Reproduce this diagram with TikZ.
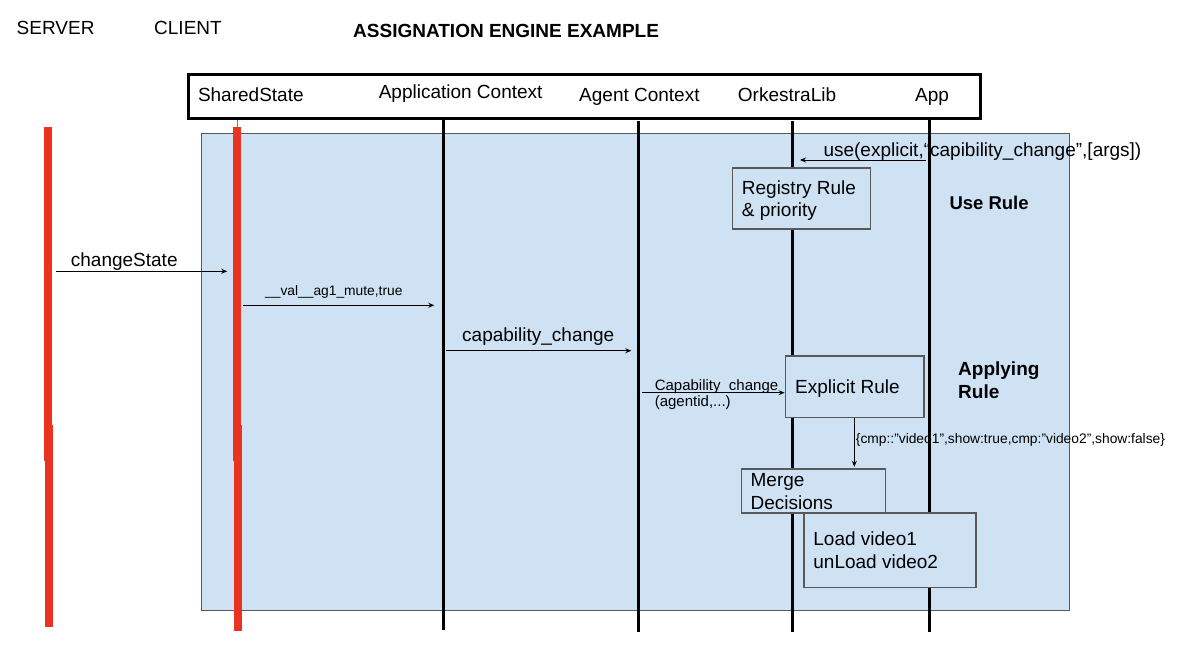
\documentclass[tikz,border=0pt]{standalone}
\usepackage{fontspec}
\setmainfont{Liberation Sans}
\usetikzlibrary{arrows.meta}
\definecolor{bluebg}{RGB}{207,226,243}
\definecolor{redline}{RGB}{234,51,35}
\definecolor{boxgray}{RGB}{89,89,89}
\newcommand\myfs[1]{\fontsize{#1}{#1}\selectfont}
\tikzset{
  txt/.style={anchor=base west, inner sep=0pt, font=\myfs{19}},
  boldtxt/.style={anchor=base west, inner sep=0pt, font=\myfs{19}\bfseries},
  smalltxt/.style={anchor=base west, inner sep=0pt, font=\myfs{13.8}},
  midtxt/.style={anchor=base west, inner sep=0pt, font=\myfs{15}},
  lifeline/.style={line width=3pt, black},
  redlife/.style={line width=8.5pt, redline},
  msg/.style={line width=1.1pt, -{Stealth[length=6pt,width=5pt]}},
  stepbox/.style={draw=boxgray, line width=1.3pt, fill=bluebg, inner sep=0pt, anchor=north west},
}
\begin{document}
\begin{tikzpicture}[x=1pt,y=-1pt]
\useasboundingbox (0,0) rectangle (1180,660);

% shaded region
\node[draw=boxgray, line width=1.3pt, fill=bluebg, anchor=north west,
      minimum width=868pt, minimum height=477pt, inner sep=0pt] (region) at (201,133) {};

% lifeline coordinates
\coordinate (appT) at (443.5,117);  \coordinate (appB) at (443.5,630);
\coordinate (agT)  at (638,121);    \coordinate (agB)  at (638,632);
\coordinate (orkT) at (792.5,121);  \coordinate (orkB) at (792.5,632);
\coordinate (aT)   at (929.3,118);  \coordinate (aB)   at (929.3,632);
\coordinate (srvT) at (48,127);     \coordinate (srvM) at (48,461);
\coordinate (srvM2) at (49,425);    \coordinate (srvB) at (49,627);
\coordinate (cliT0) at (237,117);
\coordinate (cliT) at (237,127);    \coordinate (cliM) at (237,461);
\coordinate (cliM2) at (237.8,425); \coordinate (cliB) at (237.8,631);

% lifelines
\draw[lifeline] (appT) -- (appB);
\draw[lifeline] (agT) -- (agB);
\draw[lifeline] (orkT) -- (orkB);
\draw[lifeline] (aT) -- (aB);
\draw[gray, line width=0.8pt] (cliT0) -- (cliT);
\draw[redlife] (srvT) -- (srvM);
\draw[redlife] (srvM2) -- (srvB);
\draw[redlife] (cliT) -- (cliM);
\draw[redlife] (cliM2) -- (cliB);

% header
\node[draw=black, line width=3pt, fill=white, anchor=north west,
      minimum width=792pt, minimum height=44pt, inner sep=0pt] (header) at (187,73) {};
\node[txt] (lSS)  at (197.8,101.5) {SharedState};
\node[txt] (lAC)  at (378.6,99)    {Application Context};
\node[txt] (lAgC) at (579,101.7)   {Agent Context};
\node[txt] (lOL)  at (737.7,101.7) {OrkestraLib};
\node[txt] (lApp) at (915,101.7)   {App};

% top labels
\node[txt] (server) at (16.5,35) {SERVER};
\node[txt] (client) at (154,35) {CLIENT};
\node[boldtxt] (title) at (353,37.5) {ASSIGNATION ENGINE EXAMPLE};

% messages
\coordinate (m1s) at (55.6,271.3);  \coordinate (m1e) at (227.3,271.3);
\draw[msg] (m1s) -- (m1e);
\node[txt] (m1l) at (70.7,266) {changeState};

\coordinate (m2s) at (243.3,305.3); \coordinate (m2e) at (434.3,305.3);
\draw[msg] (m2s) -- (m2e);
\node[smalltxt] (m2l) at (265,295) {\_\_val\_\_ag1\_mute,true};

\coordinate (m3s) at (446,350.7);   \coordinate (m3e) at (631.3,350.7);
\draw[msg] (m3s) -- (m3e);
\node[txt] (m3l) at (462,341) {capability\_change};

\coordinate (us) at (926,160);      \coordinate (ue) at (800,160);
\draw[msg, line width=0.9pt] (us) -- (ue);
\node[txt] (ul) at (823.3,156.7) {use(explicit,“capibility\_change”,[args])};

% boxes
\node[stepbox, minimum width=138.3pt, minimum height=61pt] (registry) at (731.7,167.3) {};
\node[txt] (reg1) at (741.7,195) {Registry Rule};
\node[txt] (reg2) at (741.7,216.7) {\& priority};

\node[boldtxt, font=\myfs{18.5}\bfseries] (userule) at (949.3,210) {Use Rule};

\node[stepbox, minimum width=138.6pt, minimum height=61.4pt] (explicit) at (784.6,355.3) {};
\node[txt] (expl) at (795,393.3) {Explicit Rule};

\coordinate (m4s) at (641.8,392.7);
\draw[msg] (m4s) -- (explicit.west |- m4s);
\node[midtxt] (m4a) at (654.6,390) {Capability\_change};
\node[midtxt] (m4b) at (654.6,406.5) {(agentid,...)};

\node[boldtxt] (apply1) at (958,375) {Applying};
\node[boldtxt] (apply2) at (958,398) {Rule};

\node[stepbox, minimum width=143.9pt, minimum height=44pt] (merge) at (740.7,468.3) {};
\node[txt] (mer1) at (750.4,486) {Merge};
\node[txt] (mer2) at (750.4,509) {Decisions};

\coordinate (dcol) at (854.3,440);
\draw[msg, shorten >=1.5pt] (explicit.south -| dcol) -- (merge.north -| dcol);
\node[smalltxt] (cmp) at (855.7,443) {\{cmp::”video1”,show:true,cmp:”video2”,show:false\}};

\node[stepbox, minimum width=172.2pt, minimum height=74.7pt] (load) at (803.2,512.3) {};
\node[txt] (ld1) at (813.2,545.7) {Load video1};
\node[txt] (ld2) at (813.2,568.3) {unLoad video2};

\end{tikzpicture}
\end{document}
